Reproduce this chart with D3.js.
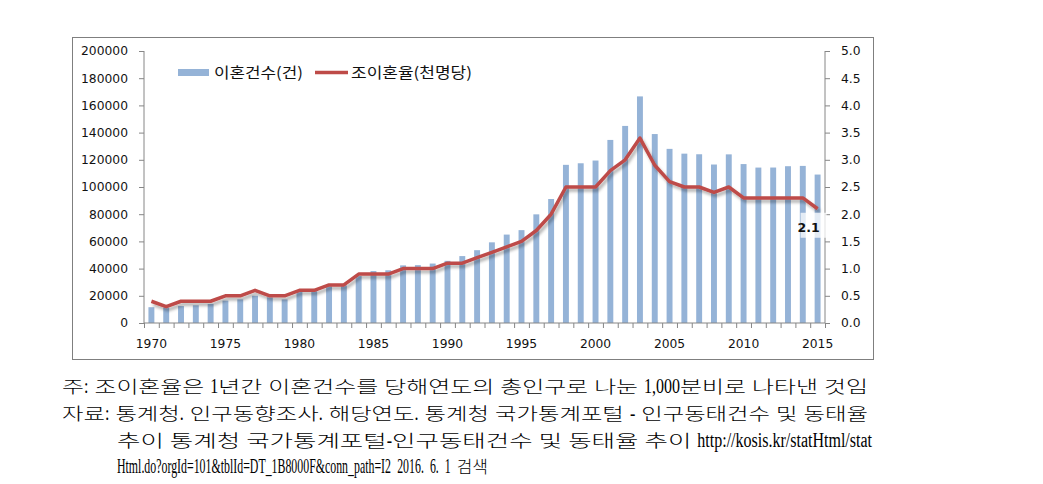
<!DOCTYPE html>
<html><head><meta charset="utf-8">
<script src="https://cdn.jsdelivr.net/npm/d3@7"></script>
<style>body{margin:0;background:#fff}svg{display:block}</style>
</head><body>
<svg id="c" width="1043" height="484"></svg>
<script>
const years = d3.range(1970, 2016);
const divorces = [11615,11361,12423,13032,14004,16453,17387,20049,18887,17359,
  23662,24531,27017,27758,34536,38187,38753,42375,42542,43713,
  45694,49205,53539,59313,65015,68279,79895,91159,116294,117449,
  119455,134608,144910,166617,138932,128035,124524,124072,116535,123999,
  116858,114284,114316,115292,115510,109153];
const rates = [0.4,0.3,0.4,0.4,0.4,0.5,0.5,0.6,0.5,0.5,
  0.6,0.6,0.7,0.7,0.9,0.9,0.9,1.0,1.0,1.0,
  1.1,1.1,1.2,1.3,1.4,1.5,1.7,2.0,2.5,2.5,
  2.5,2.8,3.0,3.4,2.9,2.6,2.5,2.5,2.4,2.5,
  2.3,2.3,2.3,2.3,2.3,2.1];
const leftTicks = [0,20000,40000,60000,80000,100000,120000,140000,160000,180000,200000];
const rightTicks = [0,0.5,1.0,1.5,2.0,2.5,3.0,3.5,4.0,4.5,5.0];
const xLabelYears = [1970,1975,1980,1985,1990,1995,2000,2005,2010,2015];
const legendLabels = ["이혼건수(건)", "조이혼율(천명당)"];
const notes = [
  "주: 조이혼율은 1년간 이혼건수를 당해연도의 총인구로 나눈 1,000분비로 나타낸 것임",
  "자료: 통계청. 인구동향조사. 해당연도. 통계청 국가통계포털 - 인구동태건수 및 동태율",
  "추이 통계청 국가통계포털-인구동태건수 및 동태율 추이 http://kosis.kr/statHtml/stat",
  "Html.do?orgId=101&tblId=DT_1B8000F&conn_path=I2 2016. 6. 1 검색"
];

const svg = d3.select("#c");
const font = "'DejaVu Sans', Verdana, sans-serif";
const kfont = "'Noto Sans CJK KR', sans-serif";

// chart frame
svg.append("rect").attr("x",72.5).attr("y",37.5).attr("width",801).attr("height",322)
  .attr("fill","#fff").attr("stroke","#7f7f7f").attr("stroke-width",1);

const L = 144, R = 825, T = 51, B = 323;
const x = d3.scaleBand().domain(years).range([L,R]).paddingInner(0.6).paddingOuter(0.3);
const yL = d3.scaleLinear().domain([0,200000]).range([B,T]);
const yR = d3.scaleLinear().domain([0,5]).range([B,T]);

const defs = svg.append("defs");
const f = defs.append("filter").attr("id","sh").attr("x","-10%").attr("y","-10%").attr("width","120%").attr("height","130%");
f.append("feDropShadow").attr("dx",2).attr("dy",3).attr("stdDeviation",1.6)
  .attr("flood-color","#000").attr("flood-opacity",0.3);

// bars
svg.append("g").selectAll("rect").data(years).join("rect")
  .attr("x", d => x(d)).attr("width", x.bandwidth())
  .attr("y", (d,i) => yL(divorces[i])).attr("height", (d,i) => B - yL(divorces[i]))
  .attr("fill","#95b3d7");

// axes
const gl = svg.append("g").attr("transform",`translate(${L},0)`)
  .call(d3.axisLeft(yL).tickValues(leftTicks).tickFormat(d3.format("d")).tickSize(5).tickPadding(11));
const gr = svg.append("g").attr("transform",`translate(${R},0)`)
  .call(d3.axisRight(yR).tickValues(rightTicks).tickFormat(d3.format(".1f")).tickSize(5).tickPadding(11));
const xb = d3.scaleLinear().domain([0,46]).range([L,R]);
const gb = svg.append("g").attr("transform",`translate(0,${B})`)
  .call(d3.axisBottom(xb).tickValues(d3.range(0,47)).tickFormat("").tickSize(5));
svg.append("g").selectAll("text").data(xLabelYears).join("text")
  .attr("x", d => x(d) + x.bandwidth()/2).attr("y", 348)
  .attr("text-anchor","middle").attr("font-family",font).attr("font-size",12.3).attr("fill","#111")
  .text(d => d);
[gl,gr,gb].forEach(g => {
  g.selectAll(".domain").attr("stroke","#868686");
  g.selectAll(".tick line").attr("stroke","#868686");
  g.selectAll("text").attr("font-family",font).attr("font-size",12.3).attr("fill","#111");
});
gb.select(".domain").attr("d",`M${L},0H${R}`);
gl.select(".domain").attr("d",`M0,${B}V${T}`);
gr.select(".domain").attr("d",`M0,${B}V${T}`);

// line
const line = d3.line().x((d,i) => x(years[i]) + x.bandwidth()/2).y(d => yR(d));
svg.append("path").datum(rates).attr("d", line).attr("fill","none")
  .attr("stroke","#be4b48").attr("stroke-width",3.5).attr("stroke-linejoin","round")
  .attr("filter","url(#sh)");

// data label 2.1
const lx = x(2015) + x.bandwidth()/2, ly = yR(rates[rates.length-1]);
svg.append("rect").attr("x", lx-17).attr("y", ly+4).attr("width",26).attr("height",25)
  .attr("fill","#fff").attr("opacity",0.75);
svg.append("text").attr("x", lx-9).attr("y", ly+23.5).attr("text-anchor","middle")
  .attr("font-family",font).attr("font-weight","bold").attr("font-size",12.5).attr("fill","#111")
  .text("2.1");

// legend
svg.append("rect").attr("x",178).attr("y",69).attr("width",31).attr("height",7).attr("fill","#95b3d7");
svg.append("text").attr("x",214).attr("y",78).attr("font-family",kfont).attr("font-size",15)
  .attr("textLength",89).attr("lengthAdjust","spacingAndGlyphs").attr("fill","#111").text(legendLabels[0]);
svg.append("line").attr("x1",315).attr("x2",348).attr("y1",72.5).attr("y2",72.5)
  .attr("stroke","#be4b48").attr("stroke-width",3.5);
svg.append("text").attr("x",351).attr("y",78).attr("font-family",kfont).attr("font-size",15)
  .attr("textLength",121).attr("lengthAdjust","spacingAndGlyphs").attr("fill","#111").text(legendLabels[1]);

// notes: Hangul runs in CJK sans (light), spaces fixed, Latin/digit runs in condensed serif
const nx = [62,62,117,117], ny = [393,420,447,473], nw = [806,806,755,371];
notes.forEach((t,i) => {
  const g = svg.append("g");
  const parts = t.split(/([\u3131-\uD7A3]+|\s+)/).filter(s => s.length);
  const segs = parts.map(s => {
    const type = /[\u3131-\uD7A3]/.test(s) ? "k" : (/^\s+$/.test(s) ? "s" : "l");
    if (type === "s") return {type, w: 6 * s.length};
    const el = g.append("text").attr("x",0).attr("y",ny[i]).attr("fill","#000")
      .attr("font-family", type === "k" ? "'Noto Sans CJK KR', sans-serif" : "'Liberation Serif', serif")
      .attr("font-weight", type === "k" ? 300 : 400)
      .attr("font-size", type === "k" ? 17 : 20)
      .text(s);
    return {el, type, w: el.node().getComputedTextLength()};
  });
  const latinNat = d3.sum(segs.filter(s => s.type === "l"), s => s.w);
  const korW = d3.sum(segs.filter(s => s.type === "k"), s => s.w);
  const spW = d3.sum(segs.filter(s => s.type === "s"), s => s.w);
  let k = 1.0;
  let ls = (nw[i] - korW*k - spW) / latinNat;
  if (ls > 0.85) { ls = 0.8; k = (nw[i] - latinNat*ls - spW) / korW; }
  if (ls < 0.55) { ls = 0.55; k = (nw[i] - latinNat*ls - spW) / korW; }
  let cx = nx[i];
  segs.forEach(s => {
    if (s.type === "s") { cx += s.w; return; }
    const sx = s.type === "k" ? k : ls;
    s.el.attr("transform", `translate(${cx},0) scale(${sx},1)`);
    cx += s.w * sx;
  });
});
</script>
</body></html>
